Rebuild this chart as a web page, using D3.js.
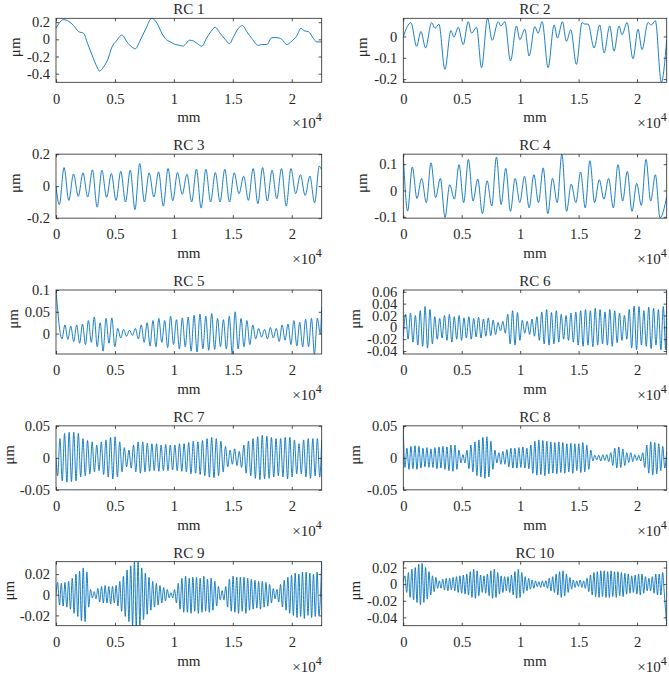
<!DOCTYPE html>
<html><head><meta charset="utf-8">
<script src="https://cdn.jsdelivr.net/npm/d3@7"></script>
<style>
body{margin:0;background:#fff}
svg{display:block}
svg text{font-family:"Liberation Serif","Times New Roman","DejaVu Serif",serif !important;}
</style>
</head><body>
<svg id="c" width="669" height="674"></svg>
<script>
// ---------------- data ----------------
const titles = ["RC 1","RC 2","RC 3","RC 4","RC 5","RC 6","RC 7","RC 8","RC 9","RC 10"];
const xMax = 22540; // mm
const xTicks = [0, 5000, 10000, 15000, 20000];
const xTickLabels = ["0", "0.5", "1", "1.5", "2"];
const xLabel = "mm";
const yLabel = "\u03bcm";

const yDomains = [[-0.5,0.245],[-0.215,0.085],[-0.2,0.2],[-0.105,0.138],[-0.0466,0.1],
                  [-0.045,0.063],[-0.05,0.05],[-0.05,0.05],[-0.03,0.032],[-0.05,0.027]];
const yTicks = [[-0.4,-0.2,0,0.2],[-0.2,-0.1,0],[-0.2,0,0.2],[-0.1,0,0.1],[0,0.05,0.1],
                [-0.04,-0.02,0,0.02,0.04,0.06],[-0.05,0,0.05],[-0.05,0,0.05],[-0.02,0,0.02],[-0.04,-0.02,0,0.02]];
const yTickLabels = [["-0.4","-0.2","0","0.2"],["-0.2","-0.1","0"],["-0.2","0","0.2"],["-0.1","0","0.1"],["0","0.05","0.1"],
                ["-0.04","-0.02","0","0.02","0.04","0.06"],["-0.05","0","0.05"],["-0.05","0","0.05"],["-0.02","0","0.02"],["-0.04","-0.02","0","0.02"]];

// RC1 (irregular) : x in mm, value in µm
const rc1X = [0,650,1074,1497,1921,2345,2684,3051,3475,3701,4040,4379,4746,5113,5594,6017,6441,6724,7147,7571,
  8136,8560,8984,9266,9690,10114,10537,10763,10961,11328,11667,12091,12374,12797,13136,13504,13927,14351,14718,15057,
  15481,15820,16187,16611,17176,17459,17882,18306,18730,19154,19577,20001,20425,20792,21046,21414,21837,22120,22540];
const rc1Y = [0.13,0.23,0.21,0.16,0.09,0.07,-0.05,-0.18,-0.32,-0.37,-0.32,-0.24,-0.09,-0.02,0.05,-0.03,-0.09,-0.11,-0.01,0.11,
  0.245,0.19,0.07,0.01,-0.03,-0.06,-0.07,-0.08,-0.06,-0.01,-0.02,-0.06,-0.08,0.02,0.09,0.14,0.07,0,-0.05,0.03,
  0.13,0.16,0.09,0.01,-0.07,-0.06,-0.06,0.02,0.02,0,-0.06,-0.02,0.04,0.13,0.10,0.09,0.01,-0.03,-0.03];

// RC2 (irregular)
const rc2X = [0,655,1140,1510,1909,2422,2707,3048,3561,4074,4330,4701,5128,5556,5840,6268,6695,7208,7607,8120,
  8348,8689,9174,9687,9972,10399,10769,11254,11538,11880,12393,12906,13191,13618,13960,14330,14815,15299,15527,15812,
  16325,16809,17180,17664,18034,18462,18718,19145,19658,20085,20427,20940,21225,21567,22080,22540];
const rc2Y = [0,0.065,-0.046,0.023,-0.054,0.065,0.038,0.057,-0.154,0.028,-0.003,0.043,-0.038,0.069,0.015,0.043,-0.146,0.085,-0.018,0.069,
  0.049,0.069,-0.115,0.049,-0.015,0.034,-0.092,0.046,0.015,0.069,-0.146,0.054,-0.008,0.069,-0.023,0.031,-0.131,0.065,0.058,0.058,
  -0.054,0.054,-0.077,0.049,-0.069,0.049,0.008,0.065,-0.105,0.034,-0.062,0.065,0.054,0.074,-0.215,-0.015];

// RC3..RC10: successive extrema; sampling: first extremum position and spacing (mm)
const rc3Head = 0, rc3First = 283, rc3Step = 401, rc3Tail = 0.1;
const rc3 = [-0.116,0.116,-0.089,0.076,-0.064,0.083,-0.068,0.102,-0.131,0.1,-0.07,0.079,-0.089,0.093,-0.099,0.1,-0.146,0.141,-0.099,0.083,
  -0.068,0.089,-0.125,0.11,-0.091,0.085,-0.051,0.074,-0.099,0.106,-0.137,0.106,-0.099,0.085,-0.099,0.106,-0.099,0.083,-0.047,0.062,
  -0.089,0.11,-0.11,0.116,-0.093,0.1,-0.079,0.11,-0.125,0.11,-0.047,0.072,-0.058,0.062,-0.104,0.125];

const rc4Head = 0.134, rc4First = 370, rc4Step = 400, rc4Tail = -0.024;
const rc4 = [-0.078,0.089,-0.03,0.046,-0.046,0.105,-0.027,0.046,-0.102,0.022,-0.033,0.098,-0.046,0.118,-0.04,0.044,-0.088,0.037,-0.059,0.127,
  -0.053,0.084,-0.079,0.046,-0.046,0.054,-0.066,0.06,-0.046,0.086,-0.088,0.046,-0.046,0.138,-0.079,0.024,-0.046,0.07,-0.066,0.113,
  -0.046,0.041,-0.033,0.046,-0.066,0.098,-0.04,0.073,-0.079,0.027,-0.057,0.118,-0.04,0.06,-0.104];

const rc5Head = 0.1, rc5First = 508, rc5Step = 249, rc5Tail = 0.06;
const rc5 = [-0.012,0.02,-0.013,0.017,-0.018,0.02,-0.022,0.022,-0.025,0.03,
 -0.02,0.038,-0.03,0.025,-0.04,0.035,-0.022,0.036,-0.03,0.012,
 -0.01,0.01,-0.006,0.008,-0.004,0.012,-0.012,0.02,-0.02,0.025,
 -0.028,0.03,-0.03,0.035,-0.02,0.03,-0.032,0.04,-0.025,0.032,
 -0.035,0.036,-0.03,0.038,-0.04,0.042,-0.042,0.045,-0.035,0.04,
 -0.038,0.046,-0.036,0.035,-0.03,0.032,-0.035,0.04,-0.047,0.05,
 -0.035,0.035,-0.03,0.03,-0.025,0.02,-0.012,0.012,-0.008,0.01,
 -0.012,0.014,-0.01,0.012,-0.018,0.02,-0.015,0.022,-0.025,0.03,
 -0.028,0.026,-0.03,0.033,-0.03,0.035,-0.047,0.035,0.0];

const rc6Head = -0.016, rc6First = 200, rc6Step = 208, rc6Tail = 0.06;
const rc6 = [0.022,-0.02,0.024,-0.025,0.02,-0.03,0.028,-0.032,0.035,-0.035,
 0.03,-0.028,0.018,-0.02,0.015,-0.018,0.02,-0.022,0.022,-0.025,
 0.018,-0.02,0.02,-0.022,0.016,-0.018,0.018,-0.02,0.015,-0.016,
 0.017,-0.018,0.014,-0.015,0.016,-0.014,0.012,-0.012,0.008,-0.006,
 0.01,-0.01,0.022,-0.028,0.028,-0.03,0.025,-0.022,0.012,-0.01,
 0.01,-0.012,0.014,-0.015,0.018,-0.022,0.026,-0.028,0.03,-0.03,
 0.025,-0.028,0.028,-0.025,0.022,-0.02,0.02,-0.022,0.024,-0.025,
 0.026,-0.03,0.028,-0.032,0.03,-0.03,0.028,-0.033,0.032,-0.03,
 0.03,-0.028,0.026,-0.03,0.03,-0.032,0.028,-0.026,0.024,-0.022,
 0.02,-0.02,0.03,-0.035,0.036,-0.038,0.035,-0.03,0.028,-0.032,
 0.034,-0.036,0.032,-0.03,0.03,-0.038,0.035,-0.038];

const rc7Head = 0, rc7First = 141, rc7Step = 195, rc7Tail = 0.028;
const rc7 = [-0.028,0.03,-0.036,0.038,-0.038,0.04,-0.037,0.04,-0.036,0.038,
 -0.03,0.03,-0.028,0.027,-0.025,0.025,-0.022,0.02,-0.02,0.025,
 -0.026,0.028,-0.03,0.032,-0.033,0.033,-0.03,0.025,-0.022,0.016,
 -0.014,0.012,-0.016,0.02,-0.022,0.025,-0.024,0.025,-0.022,0.023,
 -0.021,0.022,-0.02,0.022,-0.021,0.02,-0.02,0.021,-0.02,0.02,
 -0.019,0.02,-0.02,0.022,-0.021,0.022,-0.022,0.024,-0.025,0.026,
 -0.024,0.025,-0.026,0.027,-0.028,0.03,-0.03,0.032,-0.031,0.03,
 -0.028,0.026,-0.022,0.018,-0.014,0.012,-0.01,0.014,-0.012,0.01,
 -0.015,0.02,-0.024,0.026,-0.028,0.03,-0.032,0.033,-0.034,0.035,
 -0.033,0.034,-0.032,0.032,-0.03,0.03,-0.028,0.03,-0.03,0.032,
 -0.033,0.032,-0.03,0.028,-0.025,0.022,-0.025,0.028,-0.03,0.03,
 -0.032,0.03,-0.028,0.03,-0.03];

const rc8Head = 0.045, rc8First = 142, rc8Step = 171, rc8Tail = 0.01;
const rc8 = [-0.015,0.015,-0.018,0.018,-0.017,0.019,-0.018,0.018,-0.016,0.015,
 -0.014,0.016,-0.015,0.014,-0.015,0.016,-0.017,0.017,-0.016,0.018,
 -0.018,0.017,-0.02,0.02,-0.021,0.02,-0.018,0.012,-0.008,0.005,
 -0.008,0.012,-0.017,0.02,-0.022,0.025,-0.028,0.028,-0.03,0.032,
 -0.032,0.033,-0.03,0.026,-0.018,0.012,-0.008,0.008,-0.01,0.01,
 -0.01,0.013,-0.014,0.015,-0.016,0.015,-0.016,0.016,-0.015,0.017,
 -0.016,0.015,-0.017,0.02,-0.024,0.026,-0.027,0.028,-0.026,0.027,
 -0.028,0.026,-0.025,0.025,-0.024,0.024,-0.025,0.025,-0.023,0.024,
 -0.024,0.022,-0.022,0.023,-0.024,0.022,-0.02,0.022,-0.023,0.024,
 -0.022,0.02,-0.018,0.012,-0.005,0.004,-0.003,0.004,-0.005,0.005,
 -0.004,0.005,-0.006,0.008,-0.012,0.015,-0.016,0.017,-0.015,0.014,
 -0.012,0.008,-0.007,0.008,-0.006,0.005,-0.004,0.004,-0.005,0.008,
 -0.015,0.02,-0.024,0.025,-0.027,0.024,-0.025,0.022,-0.02,0.018,
 -0.016];

const rc9Head = 0, rc9First = 141, rc9Step = 155, rc9Tail = 0.032;
const rc9 = [0.012,-0.01,0.011,-0.011,0.012,-0.012,0.013,-0.014,0.016,-0.018,
 0.02,-0.021,0.023,-0.025,0.026,-0.026,0.022,-0.012,0.005,-0.003,
 0.003,-0.004,0.006,-0.007,0.008,-0.008,0.009,-0.008,0.008,-0.009,
 0.008,-0.008,0.009,-0.011,0.013,-0.016,0.018,-0.021,0.024,-0.026,
 0.028,-0.03,0.032,-0.031,0.032,-0.03,0.026,-0.024,0.021,-0.019,
 0.017,-0.015,0.013,-0.012,0.011,-0.01,0.009,-0.008,0.007,-0.006,
 0.005,-0.003,0.002,-0.003,0.005,-0.008,0.011,-0.014,0.016,-0.017,
 0.018,-0.017,0.016,-0.018,0.017,-0.016,0.017,-0.018,0.016,-0.017,
 0.018,-0.016,0.015,-0.017,0.016,-0.015,0.013,-0.011,0.008,-0.005,
 0.004,-0.005,0.008,-0.012,0.015,-0.016,0.018,-0.017,0.017,-0.018,
 0.017,-0.016,0.017,-0.018,0.016,-0.015,0.015,-0.014,0.014,-0.013,
 0.013,-0.014,0.013,-0.012,0.012,-0.011,0.01,-0.008,0.006,-0.004,
 0.005,-0.007,0.01,-0.012,0.014,-0.015,0.017,-0.018,0.019,-0.02,
 0.021,-0.022,0.02,-0.021,0.022,-0.023,0.022,-0.02,0.021,-0.022,
 0.02,-0.021,0.022,-0.02];

const rc10Head = 0.003, rc10First = 142, rc10Step = 147, rc10Tail = -0.05;
const rc10 = [0.01,-0.01,0.014,-0.016,0.018,-0.019,0.02,-0.022,0.024,-0.025,
 0.025,-0.022,0.02,-0.018,0.015,-0.013,0.01,-0.009,0.008,-0.005,
 0.004,-0.005,0.006,-0.007,0.007,-0.008,0.007,-0.007,0.008,-0.008,
 0.009,-0.01,0.01,-0.011,0.011,-0.012,0.012,-0.013,0.015,-0.016,
 0.018,-0.017,0.016,-0.014,0.011,-0.01,0.01,-0.011,0.012,-0.014,
 0.016,-0.017,0.018,-0.016,0.014,-0.012,0.01,-0.01,0.009,-0.008,
 0.009,-0.01,0.011,-0.013,0.015,-0.017,0.018,-0.016,0.014,-0.011,
 0.009,-0.008,0.007,-0.006,0.005,-0.005,0.004,-0.003,0.003,-0.004,
 0.004,-0.003,0.004,-0.005,0.007,-0.008,0.009,-0.01,0.012,-0.013,
 0.015,-0.016,0.016,-0.014,0.012,-0.01,0.008,-0.006,0.005,-0.004,
 0.004,-0.003,0.005,-0.004,0.004,-0.005,0.007,-0.009,0.011,-0.013,
 0.014,-0.015,0.015,-0.016,0.016,-0.015,0.016,-0.016,0.015,-0.016,
 0.016,-0.015,0.015,-0.016,0.015,-0.014,0.014,-0.015,0.013,-0.012,
 0.012,-0.011,0.01,-0.01,0.011,-0.012,0.012,-0.013,0.012,-0.011,
 0.009,-0.008,0.007,-0.008,0.009,-0.011,0.012,-0.013,0.012,-0.013,
 0.014,-0.012];

// ---------------- build point lists ----------------
const pairs = (xs, ys) => xs.map((v, i) => [v, ys[i]]);
function sampled(head, first, step, vals, tail) {
  const p = [[0, head]];
  vals.forEach((v, i) => p.push([first + i * step, v]));
  p.push([xMax, tail]);
  return p;
}
const seriesList = [
  pairs(rc1X, rc1Y),
  pairs(rc2X, rc2Y),
  sampled(rc3Head, rc3First, rc3Step, rc3, rc3Tail),
  sampled(rc4Head, rc4First, rc4Step, rc4, rc4Tail),
  sampled(rc5Head, rc5First, rc5Step, rc5, rc5Tail),
  sampled(rc6Head, rc6First, rc6Step, rc6, rc6Tail),
  sampled(rc7Head, rc7First, rc7Step, rc7, rc7Tail),
  sampled(rc8Head, rc8First, rc8Step, rc8, rc8Tail),
  sampled(rc9Head, rc9First, rc9Step, rc9, rc9Tail),
  sampled(rc10Head, rc10First, rc10Step, rc10, rc10Tail)
];

// ---------------- layout & drawing ----------------
const svg = d3.select("#c").attr("font-family", "Liberation Serif");
const fontFam = "Liberation Serif";
const ink = "#262626";
const lineCol = "#0072BD";
const colX = [[56, 321.7], [403.3, 666.7]];
const rowTop0 = 18.3, rowGap = 135.85, plotH = 64;
const tickLen = 3;
const tickFont = "14.5px", labFont = "15px";

seriesList.forEach((pts, k) => {
  const col = k % 2, row = Math.floor(k / 2);
  const [x0, x1] = colX[col];
  const top = rowTop0 + row * rowGap, bot = top + plotH;
  const x = d3.scaleLinear().domain([0, xMax]).range([x0, x1]);
  const y = d3.scaleLinear().domain(yDomains[k]).range([bot, top]);
  const g = svg.append("g");

  const cid = "clip" + k;
  svg.append("clipPath").attr("id", cid).append("rect")
    .attr("x", x0).attr("y", top).attr("width", x1 - x0).attr("height", plotH);

  g.append("path").datum(pts)
    .attr("clip-path", `url(#${cid})`)
    .attr("fill", "none").attr("stroke", lineCol).attr("stroke-width", 0.9)
    .attr("stroke-linejoin", "round")
    .attr("d", d3.line().x(d => x(d[0])).y(d => y(d[1])).curve(d3.curveMonotoneX));

  const styleAxis = (a) => {
    a.attr("font-family", fontFam).attr("font-size", null);
    a.select(".domain").remove();
    a.selectAll("line").attr("stroke", ink).attr("stroke-width", 0.8);
    a.selectAll("text").attr("fill", ink).attr("font-family", fontFam).style("font-size", tickFont);
    return a;
  };
  styleAxis(g.append("g").attr("transform", `translate(0,${bot})`)
    .call(d3.axisBottom(x).tickValues(xTicks).tickFormat((d, i) => xTickLabels[i]).tickSize(-tickLen).tickPadding(11)));
  styleAxis(g.append("g").attr("transform", `translate(0,${top})`)
    .call(d3.axisTop(x).tickValues(xTicks).tickFormat("").tickSize(-tickLen)));
  const la = styleAxis(g.append("g").attr("transform", `translate(${x0},0)`)
    .call(d3.axisLeft(y).tickValues(yTicks[k]).tickFormat((d, i) => yTickLabels[k][i]).tickSize(-tickLen).tickPadding(6)));
  styleAxis(g.append("g").attr("transform", `translate(${x1},0)`)
    .call(d3.axisRight(y).tickValues(yTicks[k]).tickFormat("").tickSize(-tickLen)));

  g.append("rect").attr("x", x0).attr("y", top).attr("width", x1 - x0).attr("height", plotH)
    .attr("fill", "none").attr("stroke", ink).attr("stroke-width", 0.8);

  const txt = (sel) => sel.attr("fill", ink).attr("font-family", fontFam).style("font-size", labFont);

  txt(g.append("text").attr("x", (x0 + x1) / 2).attr("y", top - 4).attr("text-anchor", "middle")).text(titles[k]);
  txt(g.append("text").attr("x", (x0 + x1) / 2).attr("y", bot + 40).attr("text-anchor", "middle")).text(xLabel);

  const ex = txt(g.append("text").attr("x", x1).attr("y", bot + 46).attr("text-anchor", "end"));
  ex.append("tspan").text("\u00d710");
  ex.append("tspan").attr("dy", -7).style("font-size", "12px").text("4");

  let minLeft = Infinity;
  la.selectAll("text").each(function () {
    const b = this.getBBox();
    minLeft = Math.min(minLeft, x0 + b.x);
  });
  const cx = Math.max(minLeft - 12, 9);
  txt(g.append("text").attr("transform", `translate(${cx + 5},${(top + bot) / 2 - 3}) rotate(-90)`)
    .attr("text-anchor", "middle")).text(yLabel);
});
</script>
</body></html>
